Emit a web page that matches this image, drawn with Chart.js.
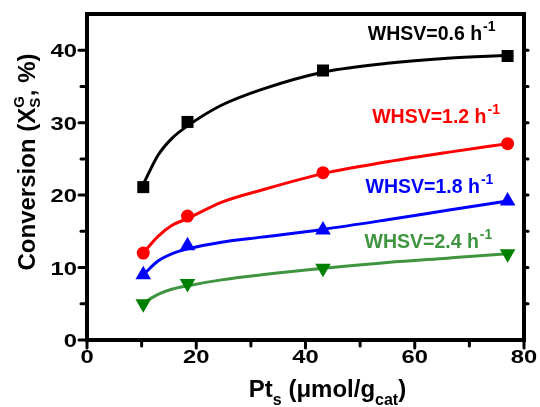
<!DOCTYPE html>
<html>
<head>
<meta charset="utf-8">
<script src="https://cdn.jsdelivr.net/npm/chart.js@4.4.1/dist/chart.umd.min.js"></script>
<style>
html, body { margin: 0; padding: 0; background: #fff; }
#wrap { width: 540px; height: 407px; }
</style>
</head>
<body>
<div id="wrap"><canvas id="chart" width="540" height="407"></canvas></div>
<script>
// measured points: surface Pt (x) vs conversion (y) for each WHSV
const ptS = [10.3, 18.4, 43.2, 77.0];
const conv06 = [21.1, 30.1, 37.2, 39.2];
const conv12 = [12.0, 17.1, 23.1, 27.1];
const conv18 = [9.0, 13.0, 15.2, 19.2];
const conv24 = [5.0, 7.8, 9.9, 11.9];

// fitted curves at these x positions
const fitX = [10.3, 13, 15.5, 18.5, 24.6, 32, 43.4, 55, 66, 77];
const fit06 = [21.5, 25.5, 27.8, 29.6, 32.4, 34.6, 37.0, 38.2, 38.9, 39.3];
const fit12 = [12.0, 14.3, 15.8, 16.8, 19.0, 20.7, 23.0, 24.6, 25.9, 27.1];
const fit18 = [9.0, 10.9, 11.9, 12.6, 13.5, 14.2, 15.3, 16.6, 17.9, 19.2];
const fit24 = [5.1, 6.3, 7.0, 7.5, 8.3, 9.0, 9.9, 10.7, 11.3, 11.9];

const seriesLabels = ['WHSV=0.6 h', 'WHSV=1.2 h', 'WHSV=1.8 h', 'WHSV=2.4 h'];
const xTicks = [0, 20, 40, 60, 80];
const yTicks = [0, 10, 20, 30, 40];

const FONT = '"Liberation Sans", Arial, sans-serif';
const GREEN_LINE = '#3f9440';

function toPoints(xs, ys) {
    return xs.map((x, i) => ({ x: x, y: ys[i] }));
}

function markers(ys, color, style, rotation, radius) {
    return {
        data: toPoints(ptS, ys),
        showLine: false,
        pointStyle: style,
        rotation: rotation,
        pointRadius: radius,
        backgroundColor: color,
        borderColor: color,
        borderWidth: 0,
        order: 0
    };
}

function fitLine(ys, color) {
    return {
        data: toPoints(fitX, ys),
        showLine: true,
        pointRadius: 0,
        borderColor: color,
        borderWidth: 3,
        cubicInterpolationMode: 'monotone',
        fill: false,
        order: 1
    };
}

// draws text made of parts, each part can be smaller and shifted (sub/superscript)
// a part with stack:true does not advance, the next one is drawn at the same x
function drawRich(ctx, parts, x, y, align) {
    let total = 0, pending = 0;
    parts.forEach(p => {
        ctx.font = 'bold ' + p.size + 'px ' + FONT;
        const w = ctx.measureText(p.t).width + (p.gap || 0);
        if (p.stack) { pending = Math.max(pending, w); return; }
        total += Math.max(w, pending);
        pending = 0;
    });
    let cx = align === 'center' ? x - total / 2 : x;
    pending = 0;
    parts.forEach(p => {
        ctx.font = 'bold ' + p.size + 'px ' + FONT;
        const w = ctx.measureText(p.t).width + (p.gap || 0);
        ctx.fillText(p.t, cx + (p.gap || 0), y + (p.dy || 0));
        if (p.stack) { pending = Math.max(pending, w); return; }
        cx += Math.max(w, pending);
        pending = 0;
    });
}

// tick labels in the figure are a bit wider than plain Arial, so stretch them
function stretchedLabel(ctx, txt, x, y, align) {
    const sx = 1.25;
    ctx.save();
    ctx.font = 'bold 19px ' + FONT;
    const w = ctx.measureText(txt).width * sx;
    const left = align === 'right' ? x - w : x - w / 2;
    ctx.translate(left, y);
    ctx.scale(sx, 1);
    ctx.textAlign = 'left';
    ctx.fillText(txt, 0, 0);
    ctx.restore();
}

const framePlugin = {
    id: 'frame',
    afterDraw(chart) {
        const ctx = chart.ctx;
        const a = chart.chartArea;
        const xs = chart.scales.x;
        const ys = chart.scales.y;

        ctx.save();
        ctx.strokeStyle = '#000';
        ctx.lineWidth = 4;
        ctx.strokeRect(a.left, a.top, a.right - a.left, a.bottom - a.top);

        // outward ticks, long on the labelled values
        ctx.lineWidth = 3;
        ctx.lineCap = 'round';
        const seg = (x1, y1, x2, y2) => {
            ctx.beginPath();
            ctx.moveTo(x1, y1);
            ctx.lineTo(x2, y2);
            ctx.stroke();
        };
        ys.ticks.forEach(t => {
            if (t.value <= ys.min || t.value >= ys.max) return;
            const y = ys.getPixelForValue(t.value);
            const len = yTicks.includes(t.value) ? 6 : 4;
            seg(a.left - 2, y, a.left - 2 - len, y);
            seg(a.right + 2, y, a.right + 4, y);
        });
        seg(a.left - 2, a.bottom, a.left - 8, a.bottom);
        xs.ticks.forEach(t => {
            const x = xs.getPixelForValue(t.value);
            const len = xTicks.includes(t.value) ? 6 : 4;
            seg(x, a.bottom + 2, x, a.bottom + 2 + len);
        });

        // tick labels
        ctx.fillStyle = '#000';
        ctx.textBaseline = 'alphabetic';
        yTicks.forEach(v => {
            stretchedLabel(ctx, String(v), a.left - 10, ys.getPixelForValue(v) + 7, 'right');
        });
        xTicks.forEach(v => {
            stretchedLabel(ctx, String(v), xs.getPixelForValue(v), a.bottom + 23, 'center');
        });

        // axis titles
        ctx.save();
        ctx.translate(35, (a.top + a.bottom) / 2 - 15);
        ctx.rotate(-Math.PI / 2);
        drawRich(ctx, [
            { t: 'Conversion (X', size: 24 },
            { t: 'G', size: 15, dy: -11, stack: true },
            { t: 'S', size: 15, dy: 5 },
            { t: ', %)', size: 24 }
        ], 0, 0, 'center');
        ctx.restore();

        drawRich(ctx, [
            { t: 'Pt', size: 24 },
            { t: 's', size: 16, dy: 8 },
            { t: ' (\u03bcmol/g', size: 24 },
            { t: 'cat', size: 16, dy: 8 },
            { t: ')', size: 24 }
        ], (a.left + a.right) / 2 + 22, 397, 'center');

        // series labels, anchored in data units
        const anchors = [[51.4, 41.4], [52.2, 30.0], [51.0, 20.3], [50.8, 12.7]];
        const colors = ['#000', '#ff0000', '#0000ff', GREEN_LINE];
        seriesLabels.forEach((txt, i) => {
            ctx.fillStyle = colors[i];
            drawRich(ctx, [
                { t: txt, size: 19.5 },
                { t: '-1', size: 14, dy: -9, gap: 1 }
            ], xs.getPixelForValue(anchors[i][0]), ys.getPixelForValue(anchors[i][1]), 'left');
        });
        ctx.restore();
    }
};

new Chart(document.getElementById('chart'), {
    type: 'scatter',
    data: {
        datasets: [
            markers(conv06, '#000000', 'rect', 0, 8.5),
            markers(conv12, '#ff0000', 'circle', 0, 6.5),
            markers(conv18, '#0000ff', 'triangle', 0, 9),
            markers(conv24, '#008000', 'triangle', 180, 9),
            fitLine(fit06, '#000000'),
            fitLine(fit12, '#ff0000'),
            fitLine(fit18, '#0000ff'),
            fitLine(fit24, GREEN_LINE)
        ]
    },
    options: {
        responsive: false,
        animation: false,
        events: [],
        layout: { autoPadding: false, padding: { top: 14, right: 16, left: 0, bottom: 0 } },
        plugins: { legend: { display: false }, tooltip: { enabled: false } },
        scales: {
            x: {
                type: 'linear',
                min: 0,
                max: 80,
                grid: { display: false, drawTicks: false },
                border: { display: false },
                ticks: { stepSize: 10, autoSkip: false, display: false },
                afterFit: s => { s.height = 67; }
            },
            y: {
                type: 'linear',
                min: 0,
                max: 45,
                grid: { display: false, drawTicks: false },
                border: { display: false },
                ticks: { stepSize: 5, autoSkip: false, display: false },
                afterFit: s => { s.width = 87; }
            }
        }
    },
    plugins: [framePlugin]
});
</script>
</body>
</html>
